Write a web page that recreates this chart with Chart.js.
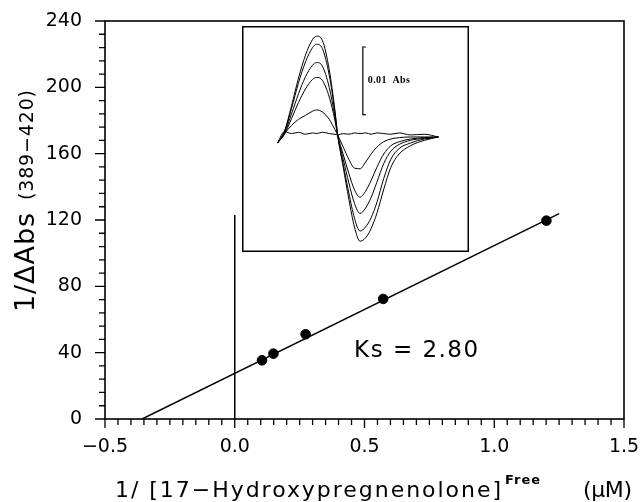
<!DOCTYPE html>
<html><head><meta charset="utf-8">
<script src="https://cdn.jsdelivr.net/npm/chart.js@4/dist/chart.umd.min.js"></script>
<style>
html,body{margin:0;padding:0;background:#fff;}
#wrap{position:relative;width:640px;height:502px;background:#fff;}
#main{position:absolute;left:0;top:0;}
#inset{position:absolute;left:242px;top:26px;}
</style></head><body>
<div id="wrap"><canvas id="main" width="640" height="502"></canvas><canvas id="inset" width="227" height="226"></canvas></div>
<script>
// ---- main plot data ----
const pointsX = [0.105, 0.149, 0.273, 0.572, 1.201];
const pointsY = [35.4, 39.4, 51.1, 72.4, 119.6];
const fitX = [-0.357, 1.25];
const fitY = [0, 123.8];
const zeroLineX = [0, 0];
const zeroLineY = [0, 123];
const xTickLabels = ['\u22120.5', '0.0', '0.5', '1.0', '1.5'];
const yTickLabels = ['0', '40', '80', '120', '160', '200', '240'];
const ksLabel = 'Ks = 2.80';
const xTitleMain = '1/ [17\u2212Hydroxypregnenolone]';
const xTitleSup = 'Free';
const xTitleUnit = '(\u03bcM)';
const yTitleMain = '1/\u0394Abs';
const yTitleSub = '(389\u2212420)';

// ---- inset spectra (wavelength nm, mAbs) ----
const wavelengths = [361,366,371,376,381,386,389,393,398,402,404,408,412,416,420,424,428,432,437,442,448,456,466,476];
const spectrumA = [-1.2,0.6,4.3,8.4,11.8,14.1,14.6,14.0,9.6,3.7,0,-4.8,-9.5,-13.6,-15.7,-15.2,-13.8,-11.6,-8.0,-4.8,-2.8,-1.6,-0.8,-0.3];
const spectrumB = [-1.2,0.5,3.9,7.7,10.8,12.9,13.4,12.8,8.8,3.4,0,-4.4,-8.6,-12.3,-14.2,-13.6,-12.2,-10.0,-6.4,-3.6,-2.0,-1.2,-0.6,-0.3];
const spectrumC = [-1.2,0.3,3.1,6.1,8.6,10.3,10.7,10.2,7.0,2.7,0,-3.6,-7.1,-10.1,-11.6,-10.8,-9.2,-7.0,-4.2,-2.4,-1.4,-0.8,-0.5,-0.3];
const spectrumD = [-1.2,0.1,2.4,4.8,6.8,8.2,8.5,8.1,5.6,2.2,0,-2.9,-5.7,-8.1,-9.2,-8.3,-6.7,-4.8,-2.8,-1.6,-1.0,-0.6,-0.4,-0.3];
const spectrumE = [-1.2,0.2,1.4,2.3,2.9,3.5,3.7,3.4,2.3,0.8,0,-1.8,-3.6,-4.9,-5.0,-4.0,-2.8,-1.8,-1.0,-0.6,-0.4,-0.3,-0.3,-0.3];
const spectrumF = [-1.2,0.5,0.2,0.4,0.1,0.3,0.2,0.4,0.2,0.1,0,0.2,0.1,0.3,0.2,0.3,0.1,0.3,0.2,0.1,0.3,0.0,0.1,-0.3];
const scaleBarX = 422;
const scaleBarY = [3, 13];
const scaleBarLabel = '0.01  Abs';

const SANS = '"DejaVu Sans", "Liberation Sans", sans-serif';

function fitText(ctx, text, x, y, font, width) {
  ctx.font = font;
  ctx.letterSpacing = '0px';
  const w = ctx.measureText(text).width;
  const n = [...text].length;
  const ls = n > 1 ? (width - w) / (n - 1) : 0;
  ctx.letterSpacing = ls + 'px';
  ctx.textAlign = 'left';
  ctx.fillText(text, x, y);
  ctx.letterSpacing = '0px';
}

const framePlugin = {
  id: 'frame',
  afterDraw(chart) {
    const ctx = chart.ctx;
    const a = chart.chartArea;
    const xs = chart.scales.x, ys = chart.scales.y;
    ctx.save();
    ctx.strokeStyle = '#000';
    ctx.fillStyle = '#000';
    ctx.lineWidth = 1.6;
    ctx.strokeRect(a.left, a.top, a.right - a.left, a.bottom - a.top);
    ctx.lineWidth = 1.3;
    ctx.beginPath();
    xs.ticks.forEach(t => {
      const p = xs.getPixelForValue(t.value);
      const major = t.label !== '';
      ctx.moveTo(p, a.bottom);
      ctx.lineTo(p, a.bottom + (major ? 9 : 6));
    });
    ys.ticks.forEach(t => {
      const p = ys.getPixelForValue(t.value);
      const major = t.label !== '';
      ctx.moveTo(a.left, p);
      ctx.lineTo(a.left - (major ? 10 : 6), p);
    });
    ctx.stroke();

    // Ks annotation
    ctx.textBaseline = 'middle';
    fitText(ctx, ksLabel, xs.getPixelForValue(0.46), ys.getPixelForValue(41), '23px ' + SANS, 124);

    // x title
    ctx.textBaseline = 'alphabetic';
    fitText(ctx, xTitleMain, 115, 497, '22px ' + SANS, 386);
    fitText(ctx, xTitleSup, 505, 484, 'bold 13px ' + SANS, 35);
    fitText(ctx, xTitleUnit, 583, 497, '22px ' + SANS, 49);

    // y title (rotated)
    ctx.save();
    ctx.translate(34, 312);
    ctx.rotate(-Math.PI / 2);
    ctx.textBaseline = 'alphabetic';
    fitText(ctx, yTitleMain, 0, 0, '27px ' + SANS, 99);
    fitText(ctx, yTitleSub, 112, -1, '19px ' + SANS, 110);
    ctx.restore();
    ctx.restore();
  }
};

function zeroPad(s) { s.paddingTop = 0; s.paddingBottom = 0; s.paddingLeft = 0; s.paddingRight = 0; }

new Chart(document.getElementById('main'), {
  type: 'scatter',
  data: {
    datasets: [
      { data: pointsX.map((x, i) => ({x, y: pointsY[i]})), backgroundColor: '#000', borderColor: '#000', pointRadius: 4.8, pointHoverRadius: 4.8, showLine: false },
      { data: fitX.map((x, i) => ({x, y: fitY[i]})), showLine: true, borderColor: '#000', borderWidth: 1.5, pointRadius: 0 },
      { data: zeroLineX.map((x, i) => ({x, y: zeroLineY[i]})), showLine: true, borderColor: '#000', borderWidth: 1.5, pointRadius: 0 }
    ]
  },
  options: {
    responsive: false, animation: false, devicePixelRatio: 1,
    layout: { padding: { left: 0, top: 21, right: 16, bottom: 0 } },
    plugins: { legend: { display: false }, tooltip: { enabled: false } },
    scales: {
      x: {
        type: 'linear', min: -0.5, max: 1.5,
        afterFit(s) { s.height = 83; zeroPad(s); },
        grid: { display: false, tickLength: 0 }, border: { display: false },
        ticks: {
          stepSize: 0.05, autoSkip: false, maxRotation: 0, padding: 17, color: '#000',
          font: { family: SANS, size: 19 },
          callback(v) {
            const k = (v + 0.5) / 0.5;
            return Math.abs(k - Math.round(k)) < 1e-6 ? xTickLabels[Math.round(k)] : '';
          }
        }
      },
      y: {
        type: 'linear', min: 0, max: 240,
        afterFit(s) { s.width = 105; zeroPad(s); },
        grid: { display: false, tickLength: 0 }, border: { display: false },
        ticks: {
          stepSize: 8, autoSkip: false, padding: 23, color: '#000',
          font: { family: SANS, size: 19 },
          callback(v) {
            const k = v / 40;
            return Math.abs(k - Math.round(k)) < 1e-6 ? yTickLabels[Math.round(k)] : '';
          }
        }
      }
    }
  },
  plugins: [framePlugin]
});

const insetPlugin = {
  id: 'insetDeco',
  afterDraw(chart) {
    const ctx = chart.ctx;
    const xs = chart.scales.x, ys = chart.scales.y;
    ctx.save();
    ctx.strokeStyle = '#000';
    ctx.fillStyle = '#000';
    ctx.lineWidth = 1.5;
    ctx.strokeRect(0.75, 0.75, chart.width - 1.5, chart.height - 1.5);
    const bx = xs.getPixelForValue(scaleBarX);
    const y0 = ys.getPixelForValue(scaleBarY[0]);
    const y1 = ys.getPixelForValue(scaleBarY[1]);
    ctx.lineWidth = 1.2;
    ctx.beginPath();
    ctx.moveTo(bx + 3, y1); ctx.lineTo(bx, y1); ctx.lineTo(bx, y0); ctx.lineTo(bx + 3, y0);
    ctx.stroke();
    ctx.textBaseline = 'middle';
    fitText(ctx, scaleBarLabel, bx + 5, (y0 + y1) / 2, 'bold 10px "Liberation Serif", "DejaVu Serif", serif', 42);
    ctx.restore();
  }
};

const spectra = [spectrumA, spectrumB, spectrumC, spectrumD, spectrumE, spectrumF];
new Chart(document.getElementById('inset'), {
  type: 'line',
  data: {
    datasets: spectra.map(s => ({
      data: wavelengths.map((w, i) => ({x: w, y: s[i]})),
      borderColor: '#000', borderWidth: 1, pointRadius: 0, fill: false,
      cubicInterpolationMode: 'monotone'
    }))
  },
  options: {
    responsive: false, animation: false, devicePixelRatio: 1,
    layout: { padding: 0 },
    plugins: { legend: { display: false }, tooltip: { enabled: false } },
    scales: {
      x: { type: 'linear', display: false, min: 335.6, max: 497.9 },
      y: { type: 'linear', display: false, min: -17.3, max: 16.1 }
    }
  },
  plugins: [insetPlugin]
});
</script>
</body></html>
